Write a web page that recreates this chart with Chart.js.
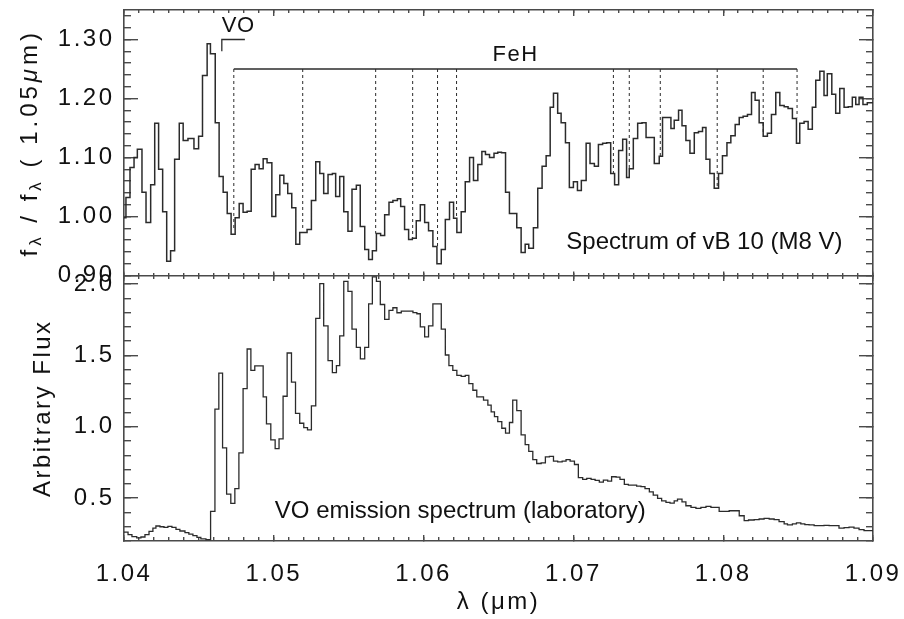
<!DOCTYPE html>
<html>
<head>
<meta charset="utf-8">
<script src="https://cdn.jsdelivr.net/npm/chart.js@4.4.1/dist/chart.umd.min.js"></script>
<style>
html,body{margin:0;padding:0;background:#fff;}
#c{display:block;}
</style>
</head>
<body>
<canvas id="c" width="904" height="619"></canvas>
<script>
// ---------------- data ----------------
const wavelengthRange = [1.04, 1.09];
const xTickValues = [1.04, 1.05, 1.06, 1.07, 1.08, 1.09];
const xTickLabels = ['1.04', '1.05', '1.06', '1.07', '1.08', '1.09'];
const starRange = [0.90, 1.35];
const starTickValues = [0.90, 1.00, 1.10, 1.20, 1.30];
const starTickLabels = ['0.90', '1.00', '1.10', '1.20', '1.30'];
const labRange = [0.20, 2.06];
const labTickValues = [0.5, 1.0, 1.5, 2.0];
const labTickLabels = ['0.5', '1.0', '1.5', '2.0'];

// vB 10 spectrum (left edge of each bin, relative flux)
const starWave = [1.04000,1.04013,1.04040,1.04067,1.04089,1.04120,1.04147,1.04178,1.04205,1.04231,
1.04258,1.04285,1.04311,1.04338,1.04369,1.04395,1.04427,1.04467,1.04498,1.04524,
1.04555,1.04577,1.04609,1.04635,1.04662,1.04689,1.04715,1.04742,1.04769,1.04795,
1.04822,1.04849,1.04875,1.04902,1.04929,1.04955,1.04987,1.05013,1.05040,1.05067,
1.05093,1.05120,1.05147,1.05173,1.05222,1.05251,1.05280,1.05307,1.05333,1.05362,
1.05391,1.05413,1.05440,1.05467,1.05495,1.05522,1.05551,1.05577,1.05607,1.05633,
1.05658,1.05685,1.05713,1.05740,1.05769,1.05795,1.05825,1.05847,1.05873,1.05900,
1.05925,1.05951,1.05978,1.06007,1.06033,1.06062,1.06089,1.06118,1.06145,1.06173,
1.06200,1.06222,1.06251,1.06278,1.06307,1.06333,1.06362,1.06389,1.06413,1.06440,
1.06470,1.06495,1.06520,1.06547,1.06573,1.06622,1.06651,1.06678,1.06702,1.06733,
1.06762,1.06791,1.06818,1.06845,1.06867,1.06895,1.06918,1.06947,1.06973,1.07000,
1.07027,1.07053,1.07085,1.07111,1.07140,1.07167,1.07195,1.07222,1.07249,1.07275,
1.07302,1.07329,1.07355,1.07373,1.07400,1.07429,1.07458,1.07485,1.07511,1.07540,
1.07573,1.07595,1.07622,1.07651,1.07673,1.07702,1.07725,1.07751,1.07778,1.07807,
1.07835,1.07862,1.07885,1.07911,1.07940,1.07969,1.07995,1.08025,1.08051,1.08080,
1.08107,1.08133,1.08162,1.08189,1.08213,1.08240,1.08267,1.08295,1.08322,1.08351,
1.08378,1.08407,1.08433,1.08462,1.08489,1.08511,1.08540,1.08567,1.08595,1.08618,
1.08645,1.08673,1.08695,1.08725,1.08751,1.08778,1.08807,1.08835,1.08862,1.08885,
1.08907,1.08933,1.08962,1.09000];
const starFlux = [0.998,1.032,1.083,1.100,1.114,1.041,0.990,1.054,1.158,1.080,
1.008,0.924,0.942,1.097,1.158,1.129,1.132,1.115,1.136,1.239,
1.293,1.276,1.159,1.068,1.041,1.005,0.970,0.998,1.022,1.007,
1.009,1.080,1.088,1.081,1.098,1.091,1.000,1.037,1.070,1.056,
1.039,1.015,0.953,0.973,0.978,1.027,1.093,1.073,1.039,1.071,
1.073,1.034,1.068,1.008,0.975,1.046,1.053,0.983,0.944,0.927,
0.942,0.971,0.968,1.003,1.024,1.027,1.030,1.017,0.978,0.961,
0.963,0.993,1.020,0.990,0.976,0.949,0.920,0.944,0.995,1.024,
0.997,0.973,1.008,1.059,1.100,1.061,1.088,1.110,1.105,1.100,
1.107,1.109,1.108,1.041,1.005,0.981,0.939,0.953,0.946,0.981,
1.048,1.085,1.103,1.185,1.209,1.175,1.159,1.125,1.049,1.059,
1.044,1.061,1.124,1.090,1.085,1.122,1.124,1.125,1.073,1.054,
1.112,1.131,1.066,1.081,1.132,1.158,1.159,1.134,1.134,1.090,
1.102,1.168,1.168,1.149,1.163,1.180,1.154,1.129,1.107,1.142,
1.144,1.151,1.097,1.073,1.048,1.073,1.103,1.125,1.137,1.156,
1.168,1.170,1.173,1.210,1.197,1.159,1.136,1.141,1.173,1.210,
1.188,1.186,1.183,1.166,1.124,1.158,1.161,1.148,1.185,1.231,
1.246,1.205,1.242,1.207,1.175,1.217,1.185,1.186,1.202,1.190,
1.202,1.190,1.193,1.193];

// VO laboratory emission spectrum (arbitrary flux)
const labWave = [1.04000,1.04027,1.04053,1.04085,1.04113,1.04140,1.04167,1.04193,1.04213,1.04240,
1.04267,1.04293,1.04320,1.04347,1.04373,1.04407,1.04433,1.04460,1.04487,1.04513,
1.04547,1.04578,1.04607,1.04633,1.04658,1.04685,1.04713,1.04740,1.04767,1.04795,
1.04822,1.04847,1.04873,1.04929,1.04951,1.04980,1.05009,1.05035,1.05062,1.05089,
1.05118,1.05145,1.05173,1.05200,1.05225,1.05251,1.05280,1.05307,1.05333,1.05362,
1.05391,1.05418,1.05440,1.05467,1.05495,1.05522,1.05551,1.05578,1.05607,1.05633,
1.05658,1.05685,1.05711,1.05740,1.05769,1.05795,1.05822,1.05851,1.05880,1.05929,
1.05955,1.05978,1.06007,1.06033,1.06062,1.06118,1.06145,1.06169,1.06195,1.06222,
1.06251,1.06278,1.06302,1.06329,1.06355,1.06400,1.06429,1.06451,1.06473,1.06495,
1.06522,1.06547,1.06573,1.06595,1.06622,1.06651,1.06678,1.06702,1.06729,1.06755,
1.06785,1.06813,1.06840,1.06867,1.06895,1.06925,1.06951,1.06978,1.07007,1.07033,
1.07062,1.07089,1.07118,1.07145,1.07173,1.07200,1.07229,1.07255,1.07285,1.07311,
1.07340,1.07367,1.07395,1.07422,1.07451,1.07478,1.07507,1.07533,1.07562,1.07589,
1.07618,1.07645,1.07673,1.07695,1.07725,1.07751,1.07785,1.07818,1.07851,1.07885,
1.07918,1.07973,1.08040,1.08107,1.08140,1.08169,1.08207,1.08240,1.08273,1.08307,
1.08340,1.08373,1.08407,1.08429,1.08462,1.08489,1.08518,1.08545,1.08573,1.08607,
1.08640,1.08673,1.08707,1.08740,1.08773,1.08807,1.08840,1.08873,1.08907,1.08940,
1.09000];
const labFlux = [0.262,0.245,0.230,0.222,0.228,0.245,0.268,0.290,0.305,0.300,
0.296,0.303,0.295,0.282,0.270,0.258,0.248,0.237,0.226,0.215,
0.210,0.408,1.124,1.376,0.852,0.528,0.463,0.567,0.817,1.268,
1.545,1.395,1.427,1.210,1.020,0.909,0.847,0.916,1.214,1.517,
1.313,1.094,1.025,0.994,0.979,1.147,1.760,2.003,1.707,1.464,
1.379,1.429,1.637,2.019,1.949,1.684,1.556,1.476,1.556,1.861,
2.050,2.019,1.857,1.753,1.816,1.834,1.799,1.811,1.811,1.800,
1.792,1.700,1.630,1.707,1.861,1.684,1.503,1.429,1.395,1.360,
1.353,1.360,1.302,1.256,1.210,1.187,1.152,1.105,1.071,1.036,
0.990,0.956,1.030,1.187,1.113,0.944,0.875,0.828,0.770,0.743,
0.748,0.789,0.793,0.759,0.754,0.759,0.770,0.759,0.736,0.644,
0.632,0.639,0.632,0.625,0.613,0.627,0.620,0.650,0.648,0.632,
0.597,0.592,0.592,0.585,0.581,0.567,0.544,0.521,0.498,0.481,
0.470,0.465,0.481,0.493,0.474,0.447,0.435,0.429,0.435,0.442,
0.435,0.408,0.412,0.377,0.343,0.347,0.350,0.354,0.359,0.354,
0.350,0.336,0.320,0.313,0.320,0.327,0.320,0.315,0.313,0.308,
0.308,0.310,0.308,0.308,0.290,0.294,0.297,0.290,0.280,0.273,
0.273];

// FeH band markers and VO bracket
const fehWave = [1.04733,1.05193,1.05680,1.05927,1.06093,1.06220,1.07267,1.07373,1.07580,1.07960,1.08267,1.08493];
const fehDepth = [0.976,0.976,0.971,0.963,0.947,0.998,1.073,1.081,1.100,1.049,1.141,1.168];
const fehLevel = 1.25;
const voBracketWave = [1.04653, 1.04807];
const voBracketFlux = [1.28, 1.30];

// ---------------- styling / helpers ----------------
const FONT = '"Liberation Sans", Arial, Helvetica, sans-serif';
const INK = '#111';
const FRAME = '#4a4a4a';
const LINE = '#2b2b2b';

function rnd(v, d) { const f = Math.pow(10, d); return Math.round(v * f) / f; }
const xMinorTicks = Array.from({length: 51}, (_, i) => rnd(wavelengthRange[0] + i * 0.001, 3));
const starMinorTicks = Array.from({length: 23}, (_, i) => rnd(starRange[0] + i * 0.02, 2));
const labMinorTicks = Array.from({length: 19}, (_, i) => rnd(labRange[0] + i * 0.1, 1));

function tickSetter(values) { return axis => { axis.ticks = values.map(v => ({value: v})); }; }
function sizeFixer(width, height) {
  return s => {
    if (width !== null) s.width = width;
    if (height !== null) s.height = height;
    s.paddingLeft = 0; s.paddingRight = 0; s.paddingTop = 0; s.paddingBottom = 0;
  };
}
function xAxis(o) {
  return {
    type: 'linear', axis: 'x', position: o.position, weight: o.weight || 0, bounds: 'data',
    min: wavelengthRange[0], max: wavelengthRange[1],
    afterBuildTicks: tickSetter(o.values),
    afterFit: sizeFixer(null, o.height || 0),
    ticks: {display: !!o.labels, autoSkip: false, maxRotation: 0, minRotation: 0,
      padding: o.padding || 0, color: INK, font: {family: FONT, size: 24},
      callback: (v, i) => o.labels ? o.labels[i] : ''},
    grid: {display: true, drawOnChartArea: false, drawTicks: true, tickLength: o.tickLength,
      tickColor: FRAME, tickWidth: 1.4, color: FRAME, lineWidth: 1.4},
    border: {display: !!o.border, color: FRAME, width: 1.6},
    title: o.title || {display: false}
  };
}
function yAxis(o) {
  return {
    type: 'linear', axis: 'y', position: o.position, stack: o.stack, stackWeight: 1, weight: o.weight, bounds: 'data',
    min: o.range[0], max: o.range[1],
    afterBuildTicks: tickSetter(o.values),
    afterFit: sizeFixer(o.width || 0, null),
    ticks: {display: !!o.labels, autoSkip: false, padding: o.padding || 0, color: INK,
      font: {family: FONT, size: 24}, callback: (v, i) => o.labels ? o.labels[i] : ''},
    grid: {display: true, drawOnChartArea: false, drawTicks: true, tickLength: o.tickLength,
      tickColor: FRAME, tickWidth: 1.4, color: FRAME, lineWidth: 1.4},
    border: {display: !!o.border, color: FRAME, width: 1.6},
    title: o.title || {display: false}
  };
}

const scales = {
  x: xAxis({position: 'bottom', weight: 1, values: xTickValues, labels: xTickLabels, tickLength: -6, border: true, height: 78, padding: 25,
    title: {display: true, text: 'λ (μm)', color: INK, font: {family: FONT, size: 24}, padding: {top: 0, bottom: 2}}}),
  xMinor: xAxis({position: 'bottom', weight: 0, values: xMinorTicks, tickLength: -4}),
  xTop: xAxis({position: 'top', weight: 1, values: xTickValues, tickLength: -6, border: true}),
  xTopMinor: xAxis({position: 'top', weight: 0, values: xMinorTicks, tickLength: -3}),
  xMidUp: xAxis({position: {y: starRange[0]}, values: xTickValues, tickLength: -5, border: true}),
  xMidUpMinor: xAxis({position: {y: starRange[0]}, values: xMinorTicks, tickLength: -3}),
  xMidDown: xAxis({position: {y: starRange[0]}, values: xTickValues, tickLength: 5}),
  xMidDownMinor: xAxis({position: {y: starRange[0]}, values: xMinorTicks, tickLength: 3}),
  y: yAxis({position: 'left', stack: 'L', weight: 3, range: starRange, values: starTickValues, labels: starTickLabels, tickLength: -14, border: true, width: 124, padding: 23.5}),
  y2: yAxis({position: 'left', stack: 'L', weight: 2, range: labRange, values: labTickValues, labels: labTickLabels, tickLength: -14, border: true, width: 124, padding: 23.5,
    title: {display: true, text: 'Arbitrary Flux', color: INK, font: {family: FONT, size: 24}, padding: {top: 28.6, bottom: 0}}}),
  yMinor: yAxis({position: 'left', stack: 'LM', weight: 1, range: starRange, values: starMinorTicks, tickLength: -7}),
  y2Minor: yAxis({position: 'left', stack: 'LM', weight: 0, range: labRange, values: labMinorTicks, tickLength: -7}),
  yRMinor: yAxis({position: 'right', stack: 'RM', weight: 0, range: starRange, values: starMinorTicks, tickLength: -7}),
  y2RMinor: yAxis({position: 'right', stack: 'RM', weight: 1, range: labRange, values: labMinorTicks, tickLength: -7}),
  yR: yAxis({position: 'right', stack: 'R', weight: 2, range: starRange, values: starTickValues, tickLength: -14, border: true}),
  y2R: yAxis({position: 'right', stack: 'R', weight: 3, range: labRange, values: labTickValues, tickLength: -14, border: true})
};

const textNotes = [
  {text: 'VO', wave: 1.04653, value: 1.3237, scale: 'y', size: 22, spacing: 0.5},
  {text: 'FeH', wave: 1.0646, value: 1.273, scale: 'y', size: 22, spacing: 1.5},
  {text: 'Spectrum of vB 10 (M8 V)', wave: 1.06953, value: 0.956, scale: 'y', size: 24, spacing: 0},
  {text: 'VO emission spectrum (laboratory)', wave: 1.05007, value: 0.41, scale: 'y2', size: 24, spacing: 0}
];
const starTitleParts = [
  {t: 'f', size: 24, dy: 0},
  {t: 'λ', size: 17, dy: 6},
  {t: ' / f', size: 24, dy: 0},
  {t: 'λ', size: 17, dy: 6},
  {t: ' ( 1.05', size: 24, dy: 0},
  {t: 'μ', size: 24, dy: 0, italic: true},
  {t: 'm)', size: 24, dy: 0}
];

const spacingPlugin = {
  id: 'spacing',
  beforeDraw(chart) { chart.ctx.letterSpacing = '2.5px'; }
};
const notesPlugin = {
  id: 'notes',
  afterDraw(chart) {
    const {ctx, scales: s} = chart;
    ctx.save();
    ctx.fillStyle = INK;
    ctx.textAlign = 'left';
    ctx.textBaseline = 'middle';
    for (const n of textNotes) {
      ctx.letterSpacing = n.spacing + 'px';
      ctx.font = n.size + 'px ' + FONT;
      ctx.fillText(n.text, s.x.getPixelForValue(n.wave), s[n.scale].getPixelForValue(n.value));
    }
    // rotated y-axis title of the upper panel (with subscripts)
    ctx.letterSpacing = '4px';
    const cx = s.y.left + 30;
    const cy = (s.y.top + s.y.bottom) / 2;
    let total = 0;
    for (const p of starTitleParts) {
      ctx.font = (p.italic ? 'italic ' : '') + p.size + 'px ' + FONT;
      total += ctx.measureText(p.t).width;
    }
    ctx.translate(cx, cy);
    ctx.rotate(-Math.PI / 2);
    let x = -total / 2;
    for (const p of starTitleParts) {
      ctx.font = (p.italic ? 'italic ' : '') + p.size + 'px ' + FONT;
      ctx.fillText(p.t, x, p.dy);
      x += ctx.measureText(p.t).width;
    }
    ctx.restore();
  }
};

const pts = (w, f) => w.map((v, i) => ({x: v, y: f[i]}));
const base = {xAxisID: 'x', pointRadius: 0, pointHoverRadius: 0, fill: false, tension: 0, borderColor: LINE};

new Chart(document.getElementById('c'), {
  type: 'line',
  data: {
    datasets: [
      Object.assign({}, base, {label: 'vB 10', data: pts(starWave, starFlux), yAxisID: 'y', stepped: 'before', borderWidth: 1.5}),
      Object.assign({}, base, {label: 'VO laboratory', data: pts(labWave, labFlux), yAxisID: 'y2', stepped: 'before', borderWidth: 1.3}),
      Object.assign({}, base, {label: 'FeH bar', data: [{x: fehWave[0], y: fehLevel}, {x: fehWave[fehWave.length - 1], y: fehLevel}], yAxisID: 'y', borderWidth: 1.3}),
      Object.assign({}, base, {label: 'FeH lines', data: fehWave.flatMap((w, i) => [{x: w, y: fehLevel}, {x: w, y: fehDepth[i]}, {x: w, y: null}]),
        yAxisID: 'y', borderWidth: 1, borderDash: [3, 3], spanGaps: false}),
      Object.assign({}, base, {label: 'VO bracket', data: [{x: voBracketWave[0], y: voBracketFlux[0]}, {x: voBracketWave[0], y: voBracketFlux[1]}, {x: voBracketWave[1], y: voBracketFlux[1]}],
        yAxisID: 'y', borderWidth: 1.3})
    ]
  },
  options: {
    responsive: false,
    animation: false,
    devicePixelRatio: 1,
    events: [],
    layout: {padding: {left: 0, top: 10, right: 31, bottom: 0}},
    plugins: {legend: {display: false}, tooltip: {enabled: false}, title: {display: false}},
    scales: scales
  },
  plugins: [spacingPlugin, notesPlugin]
});
</script>
</body>
</html>
